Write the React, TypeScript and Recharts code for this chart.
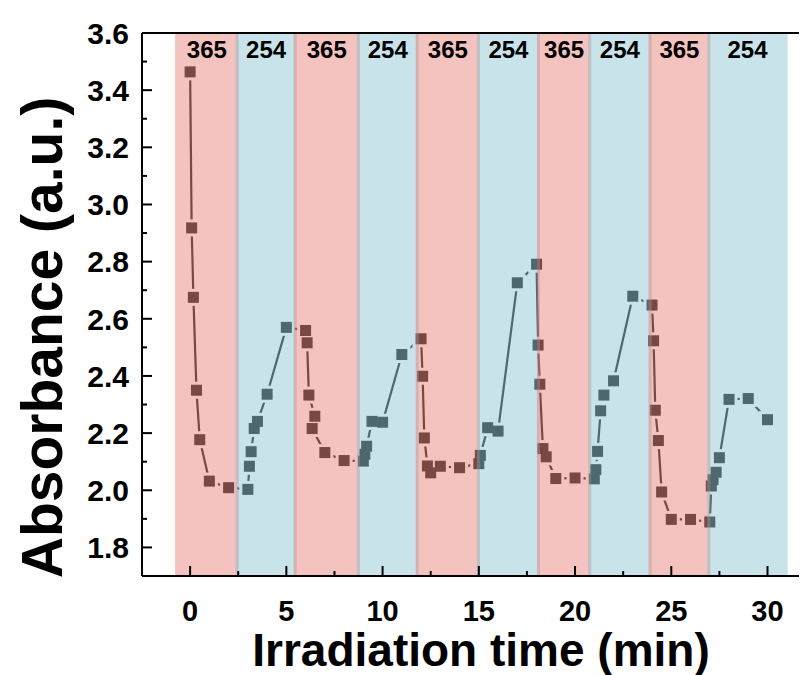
import React from 'react';
import { LineChart, Line, XAxis, YAxis, ReferenceArea, ReferenceLine } from 'recharts';

// Irradiation time (min)
const times = [
  0, 0.08, 0.17, 0.33, 0.5, 1, 2,
  3, 3.08, 3.17, 3.33, 3.5, 4, 5,
  6, 6.08, 6.17, 6.48, 6.34, 7, 8,
  9, 9.08, 9.17, 9.45, 10, 11,
  12, 12.08, 12.17, 12.33, 12.5, 13, 14,
  15, 15.08, 15.46, 16, 17,
  18, 18.08, 18.17, 18.33, 18.5, 19, 20,
  21, 21.08, 21.17, 21.33, 21.5, 22, 23,
  24, 24.08, 24.17, 24.33, 24.5, 25, 26,
  27, 27.08, 27.17, 27.33, 27.5, 28, 29, 30,
];
// Absorbance (a.u.)
const absorbance = [
  3.464, 2.918, 2.675, 2.35, 2.177, 2.032, 2.009,
  2.003, 2.084, 2.135, 2.216, 2.241, 2.336, 2.57,
  2.559, 2.516, 2.333, 2.259, 2.216, 2.132, 2.104,
  2.102, 2.126, 2.154, 2.241, 2.238, 2.475,
  2.53, 2.399, 2.183, 2.085, 2.061, 2.084, 2.079,
  2.093, 2.122, 2.219, 2.207, 2.726,
  2.791, 2.508, 2.371, 2.146, 2.117, 2.041, 2.043,
  2.04, 2.072, 2.136, 2.278, 2.333, 2.383, 2.679,
  2.648, 2.523, 2.28, 2.174, 1.994, 1.898, 1.898,
  1.889, 2.015, 2.037, 2.063, 2.114, 2.318, 2.321, 2.247,
];

// Irradiation bands (start/end times in min) and wavelengths (nm)
const bandEdges = [-0.78, 2.44, 5.46, 8.74, 11.8, 14.98, 18.1, 20.76, 23.9, 26.95, 31.05];
const bandWavelengths = ['365', '254', '365', '254', '365', '254', '365', '254', '365', '254'];

const xMajorTicks = [0, 5, 10, 15, 20, 25, 30];
const xTickLabels = ['0', '5', '10', '15', '20', '25', '30'];
const xMinorTicks = [2.5, 7.5, 12.5, 17.5, 22.5, 27.5];
const yMajorTicks = [1.8, 2.0, 2.2, 2.4, 2.6, 2.8, 3.0, 3.2, 3.4, 3.6];
const yTickLabels = ['1.8', '2.0', '2.2', '2.4', '2.6', '2.8', '3.0', '3.2', '3.4', '3.6'];
const yMinorTicks = [1.9, 2.1, 2.3, 2.5, 2.7, 2.9, 3.1, 3.3, 3.5];

const data = times.map((t, i) => ({ t, a: absorbance[i] }));
const bands = bandWavelengths.map((w, i) => ({ w, x1: bandEdges[i], x2: bandEdges[i + 1] }));

const FONT = '"Liberation Sans", Arial, sans-serif';
const DATA_COLOR = '#333333';
const BAND_FILL: Record<string, string> = { '365': 'rgb(228,103,96)', '254': 'rgb(118,188,203)' };
const OVERLAP = 0.08;
const Y_MARGIN = 13;
const X_MARGIN = 0;

const findIdx = (arr: number[], v: number) => arr.findIndex((m) => Math.abs(m - v) < 1e-6);

function YTick(props: any) {
  const { x, y, payload } = props;
  const ax = x + Y_MARGIN;
  const idx = findIdx(yMajorTicks, payload.value);
  const major = idx >= 0;
  return (
    <g>
      <line x1={ax} x2={ax + (major ? 10 : 5)} y1={y} y2={y} stroke="#000" strokeWidth={2} />
      {major && (
        <text x={x} y={y} dy="0.36em" textAnchor="end" fontFamily={FONT} fontWeight="bold" fontSize={30} fill="#000">
          {yTickLabels[idx]}
        </text>
      )}
    </g>
  );
}

function XTick(props: any) {
  const { x, y, payload } = props;
  const ay = y - X_MARGIN;
  const idx = findIdx(xMajorTicks, payload.value);
  const major = idx >= 0;
  return (
    <g>
      <line x1={x} x2={x} y1={ay} y2={ay - (major ? 10 : 5)} stroke="#000" strokeWidth={2} />
      {major && (
        <text x={x} y={ay + 45} textAnchor="middle" fontFamily={FONT} fontWeight="bold" fontSize={29} fill="#000">
          {xTickLabels[idx]}
        </text>
      )}
    </g>
  );
}

const Halo = (p: any) => (
  <rect key={`h-${p.index}`} x={p.cx - 8.5} y={p.cy - 8.5} width={17} height={17} fill="#ffffff" />
);
const Marker = (p: any) => (
  <rect key={`m-${p.index}`} x={p.cx - 5.5} y={p.cy - 5.5} width={11} height={11} fill={DATA_COLOR} />
);

const z = (v: number) => ({ zIndex: v } as any);

export default function App() {
  return (
    <div style={{ width: 799, height: 667 }}>
      <LineChart width={799} height={667} data={data} margin={{ top: 25, right: 1, left: 0, bottom: 0 }}>
        <Line
          dataKey="a"
          type="linear"
          stroke={DATA_COLOR}
          strokeWidth={2.2}
          dot={Halo}
          activeDot={false}
          isAnimationActive={false}
          {...z(400)}
        />
        <Line
          dataKey="a"
          type="linear"
          stroke="none"
          dot={Marker}
          activeDot={false}
          isAnimationActive={false}
          {...z(410)}
        />
        {bands.map((b, i) => (
          <ReferenceArea
            key={`band-${i}`}
            x1={b.x1 - (i > 0 ? OVERLAP : 0)}
            x2={b.x2 + (i < bands.length - 1 ? OVERLAP : 0)}
            y1={1.7}
            y2={3.6}
            fill={BAND_FILL[b.w]}
            fillOpacity={0.4}
            stroke="none"
            ifOverflow="visible"
            {...z(1500)}
            label={{
              content: (lp: any) => {
                const vb = lp.viewBox || {};
                return (
                  <text
                    x={vb.x + vb.width / 2}
                    y={vb.y + 25}
                    textAnchor="middle"
                    fontFamily={FONT}
                    fontWeight="bold"
                    fontSize={24}
                    fill="#000"
                  >
                    {b.w}
                  </text>
                );
              },
            }}
          />
        ))}
        <ReferenceLine y={3.6} stroke="#000" strokeWidth={2} ifOverflow="visible" {...z(1700)} />
        <XAxis
          dataKey="t"
          type="number"
          domain={[-2.5, 32]}
          ticks={[...xMajorTicks, ...xMinorTicks].sort((p, q) => p - q)}
          interval={0}
          height={99}
          tickSize={0}
          tickMargin={X_MARGIN}
          tickLine={false}
          axisLine={{ stroke: '#000', strokeWidth: 2 }}
          tick={<XTick />}
          allowDataOverflow
          {...z(1600)}
          label={{
            content: (lp: any) => {
              const vb = lp.viewBox || {};
              return (
                <text
                  x={vb.x + vb.width / 2 + 7}
                  y={vb.y + 90}
                  textAnchor="middle"
                  fontFamily={FONT}
                  fontWeight="bold"
                  fontSize={46}
                  fill="#000"
                >
                  Irradiation time (min)
                </text>
              );
            },
          }}
        />
        <YAxis
          type="number"
          domain={[1.7, 3.6]}
          ticks={[...yMajorTicks, ...yMinorTicks].sort((p, q) => p - q)}
          interval={0}
          width={134}
          tickSize={0}
          tickMargin={Y_MARGIN}
          tickLine={false}
          axisLine={{ stroke: '#000', strokeWidth: 2 }}
          tick={<YTick />}
          allowDataOverflow
          {...z(1600)}
          label={{
            content: (lp: any) => {
              const vb = lp.viewBox || {};
              const cx = vb.x + 54;
              const cy = vb.y + vb.height / 2 + 33;
              return (
                <text
                  x={cx}
                  y={cy}
                  transform={`rotate(-90 ${cx} ${cy})`}
                  textAnchor="middle"
                  fontFamily={FONT}
                  fontWeight="bold"
                  fontSize={57}
                  fill="#000"
                >
                  Absorbance (a.u.)
                </text>
              );
            },
          }}
        />
      </LineChart>
    </div>
  );
}
